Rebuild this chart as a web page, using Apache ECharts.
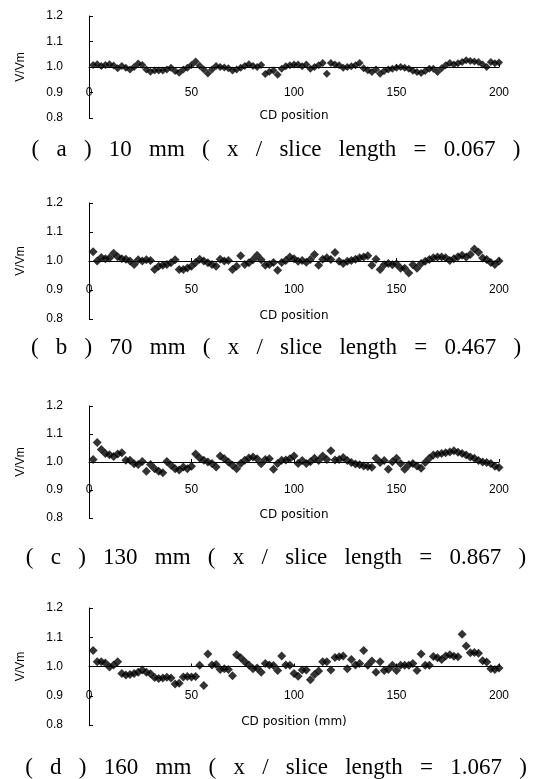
<!DOCTYPE html>
<html>
<head>
<meta charset="utf-8">
<script src="https://cdn.jsdelivr.net/npm/echarts@6/dist/echarts.min.js"></script>
<style>html,body{margin:0;padding:0;background:#fff}#c{width:552px;height:779px}</style>
</head>
<body>
<div id="c"></div>
<script>
const positions = [2,4,6,8,10,12,14,16,18,20,22,24,26,28,30,32,34,36,38,40,42,44,46,48,50,52,54,56,58,60,62,64,66,68,70,72,74,76,78,80,82,84,86,88,90,92,94,96,98,100,102,104,106,108,110,112,114,116,118,120,122,124,126,128,130,132,134,136,138,140,142,144,146,148,150,152,154,156,158,160,162,164,166,168,170,172,174,176,178,180,182,184,186,188,190,192,194,196,198,200];

const seriesA = [1.008,1.011,1.004,1.008,1.011,1.006,0.995,1.004,0.997,0.990,1.000,1.014,1.008,0.990,0.981,0.986,0.986,0.986,0.990,0.997,0.984,0.977,0.990,0.997,1.008,1.022,1.005,0.990,0.975,0.990,1.004,1.000,0.998,0.995,0.986,0.990,0.997,1.004,1.011,1.004,1.000,1.008,0.973,0.981,0.986,0.970,0.993,1.003,1.007,1.010,1.010,1.003,1.010,0.993,1.000,1.007,1.016,0.974,1.016,1.010,1.007,0.997,1.000,1.003,1.007,1.016,0.995,0.987,0.980,0.990,0.974,0.984,0.990,0.993,0.997,1.000,0.997,0.993,0.985,0.980,0.976,0.984,0.993,0.993,0.980,0.995,1.007,1.016,1.010,1.015,1.020,1.026,1.024,1.022,1.020,1.010,1.000,1.020,1.015,1.018];

const seriesB = [1.032,1.000,1.012,1.008,1.010,1.027,1.015,1.008,1.006,1.000,0.988,1.004,1.000,1.004,1.002,0.971,0.982,0.985,0.988,0.994,1.004,0.971,0.971,0.976,0.982,0.995,1.006,1.000,0.994,0.988,0.982,1.006,1.000,1.002,0.971,0.982,1.018,0.988,0.994,1.004,1.020,1.004,0.985,0.988,0.995,0.968,0.995,1.002,1.014,1.008,0.999,1.002,0.996,1.005,1.022,0.985,1.006,1.011,1.005,1.029,0.999,0.991,0.999,1.002,1.006,1.011,1.014,1.018,0.985,1.006,0.971,0.987,0.991,0.987,0.990,0.975,0.975,0.959,0.987,0.975,0.991,0.999,1.005,1.011,1.014,1.014,1.011,1.002,1.008,1.015,1.020,1.014,1.022,1.041,1.030,1.010,1.005,0.995,0.988,1.000];

const seriesC = [1.009,1.070,1.045,1.030,1.026,1.020,1.029,1.033,1.006,1.006,0.994,0.991,1.002,0.967,0.991,0.976,0.967,0.962,1.002,0.988,0.976,0.971,0.982,0.976,0.985,1.029,1.014,1.006,1.000,0.995,0.982,1.021,1.012,1.000,0.988,0.976,0.995,1.006,1.014,1.018,1.012,0.994,1.009,1.012,0.974,0.995,1.006,1.007,1.012,1.021,0.995,1.005,0.995,1.001,1.013,1.005,1.021,1.009,1.040,1.007,1.009,1.016,1.005,0.998,0.993,0.990,0.986,0.984,0.981,1.013,0.998,1.005,0.974,1.001,1.013,0.995,0.974,0.990,0.995,0.986,0.978,0.998,1.013,1.025,1.028,1.030,1.033,1.036,1.040,1.035,1.030,1.025,1.018,1.013,1.005,1.000,0.998,0.995,0.985,0.980];

const seriesD = [1.055,1.016,1.016,1.012,0.998,1.005,1.016,0.976,0.971,0.973,0.976,0.980,0.988,0.980,0.975,0.962,0.959,0.961,0.963,0.961,0.940,0.943,0.964,0.966,0.964,0.966,1.004,0.935,1.043,1.005,1.007,0.990,0.992,0.990,0.968,1.040,1.030,1.016,1.005,0.992,0.995,0.980,1.010,1.005,1.003,0.986,1.036,1.005,1.004,0.976,0.967,0.988,0.988,0.955,0.973,0.985,1.016,1.016,0.988,1.031,1.033,1.036,0.992,1.024,1.005,1.010,1.055,1.004,1.019,0.980,1.016,0.986,0.990,1.004,0.986,1.004,1.004,1.004,1.010,0.986,1.043,1.004,1.004,1.034,1.030,1.024,1.036,1.040,1.035,1.033,1.110,1.070,1.047,1.048,1.045,1.020,1.015,0.992,0.990,0.995];

const yTicks = [0.8, 0.9, 1.0, 1.1, 1.2];
const xTicks = [0, 50, 100, 150, 200];
const xNames = ['CD position', 'CD position', 'CD position', 'CD position (mm)'];
const yName = 'V/Vm';
const captions = [
  '(   a   )   10   mm   (   x   /   slice   length   =   0.067   )',
  '(   b   )   70   mm   (   x   /   slice   length   =   0.467   )',
  '(   c   )   130   mm   (   x   /   slice   length   =   0.867   )',
  '(   d   )   160   mm   (   x   /   slice   length   =   1.067   )'
];
const allSeries = [seriesA, seriesB, seriesC, seriesD];

// layout
const panels = [
  {top: 16, height: 102, cap: 133, size: 8},
  {top: 203, height: 116, cap: 331, size: 9},
  {top: 406, height: 112, cap: 541, size: 9},
  {top: 608, height: 117, cap: 751, size: 9}
];
const LEFT = 89, WIDTH = 410;
const sans = 'Liberation Sans, Arial, sans-serif';

const grid = [], xAxis = [], yAxis = [], series = [], title = [];
panels.forEach((p, i) => {
  grid.push({left: LEFT, top: p.top, width: WIDTH, height: p.height});
  xAxis.push({
    gridIndex: i, type: 'value', min: xTicks[0], max: xTicks[xTicks.length - 1], interval: 50,
    offset: -p.height / 2,
    axisLine: {show: true, lineStyle: {color: '#000', width: 1}},
    axisTick: {show: true, inside: true, length: 3, lineStyle: {color: '#000'}},
    axisLabel: {color: '#000', fontSize: 12, fontFamily: sans, margin: p.height / 4 - 6},
    splitLine: {show: false},
    name: xNames[i], nameLocation: 'middle', nameGap: p.height * 0.42,
    nameTextStyle: {color: '#000', fontSize: 12, fontFamily: 'DejaVu Sans, sans-serif'}
  });
  yAxis.push({
    gridIndex: i, type: 'value', min: yTicks[0], max: yTicks[yTicks.length - 1], interval: 0.1,
    axisLine: {show: true, lineStyle: {color: '#000', width: 1}},
    axisTick: {show: true, inside: true, length: 4, lineStyle: {color: '#000'}},
    axisLabel: {color: '#000', fontSize: 12, fontFamily: sans, margin: 26,
      formatter: v => v.toFixed(1)},
    splitLine: {show: false},
    name: yName, nameLocation: 'middle', nameGap: 62, nameRotate: 90,
    nameTextStyle: {color: '#000', fontSize: 12, fontFamily: sans}
  });
  series.push({
    type: 'scatter', xAxisIndex: i, yAxisIndex: i, symbol: 'diamond', symbolSize: p.size,
    itemStyle: {color: '#000'},
    data: positions.map((x, k) => [x, allSeries[i][k]])
  });
  title.push({
    text: captions[i], left: 'center', top: p.cap,
    textStyle: {fontFamily: 'Liberation Serif, Times New Roman, serif', fontSize: 23, fontWeight: 'normal', color: '#000'}
  });
});

const chart = echarts.init(document.getElementById('c'), null, {renderer: 'canvas'});
chart.setOption({animation: false, backgroundColor: '#fff', title, grid, xAxis, yAxis, series});
</script>
</body>
</html>
